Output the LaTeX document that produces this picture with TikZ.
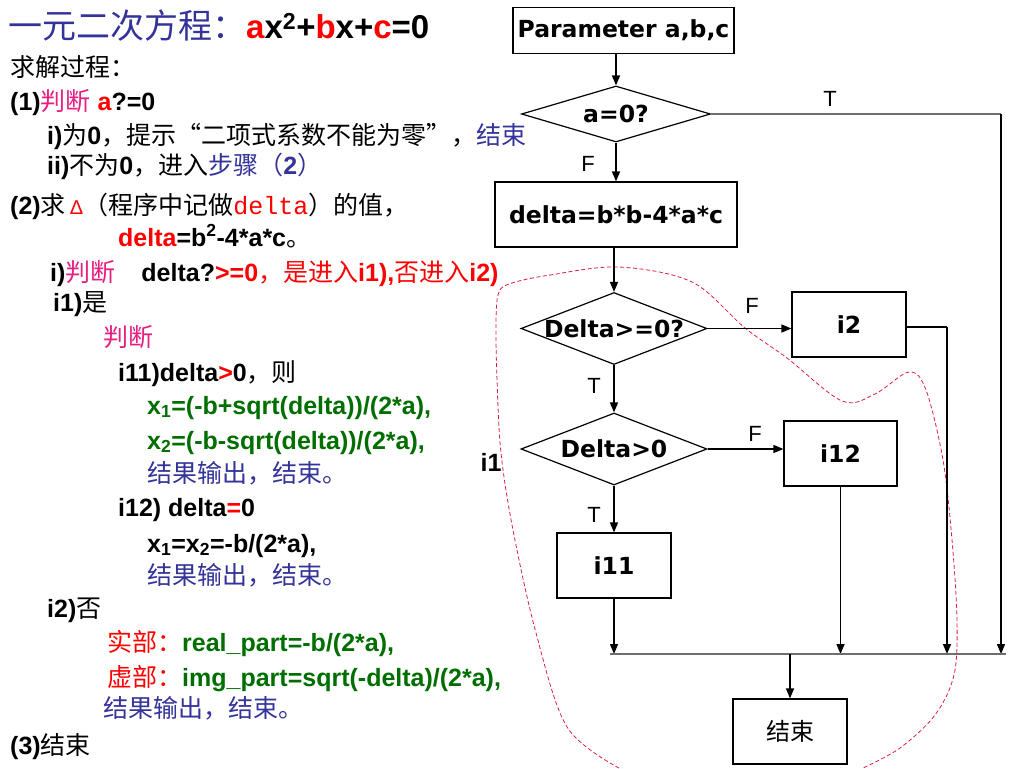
\documentclass[tikz,border=0pt]{standalone}
\usepackage{fontspec}
\setmainfont{Liberation Sans}
\newfontfamily\zhf{Noto Sans CJK SC}
\newfontfamily\vf{DejaVu Sans}
\newfontfamily\monof{Liberation Mono}
\usetikzlibrary{shapes.geometric,arrows.meta}
\definecolor{pblue}{RGB}{51,51,153}
\definecolor{pmag}{RGB}{230,30,130}
\definecolor{pred}{RGB}{255,0,0}
\definecolor{pgreen}{RGB}{0,110,0}
\definecolor{lgray}{RGB}{110,110,110}
\definecolor{dred}{RGB}{220,30,60}
\newcommand\zh[1]{{\zhf\mdseries #1}}
\newcommand\txtfont{\fontsize{25}{25}\selectfont\bfseries}
\newcommand\fcfont{\vf\bfseries\fontsize{23.5}{23.5}\selectfont}
\tikzset{
  txt/.style={anchor=base west, inner sep=0pt, font=\txtfont},
  fbox/.style={draw, line width=1.2pt, inner sep=0pt, font=\fcfont},
  fdia/.style={diamond, draw, line width=1.2pt, inner sep=0pt},
  tf/.style={inner sep=0pt, font=\fontsize{22}{22}\selectfont},
  arr/.style={-{Triangle[length=10pt,width=8pt]}, line width=1.4pt},
  gline/.style={draw=lgray, line width=1.6pt},
  outl/.style={draw=dred, line width=0.8pt, dash pattern=on 4pt off 2.5pt}
}
\begin{document}
\begin{tikzpicture}[x=1pt,y=-1pt]
\useasboundingbox (0,0) rectangle (1024,768);
% ---- left text ----
\node[txt] (l1) at (8,39) {\fontsize{34}{34}\selectfont\color{pblue}\zh{一元二次方程：}{\fontsize{33}{33}\selectfont\bfseries\color{pred}a\color{black}x\textsuperscript{2}+\color{pred}b\color{black}x+\color{pred}c\color{black}=0}};
\node[txt] (l2) at (10,77) {\zh{求解过程：}};
\node[txt] (l3) at (10,110) {(1)\zh{\color{pmag}判断} {\color{pred}a}?=0};
\node[txt] (l4) at (47,144) {i)\zh{为}0\zh{，提示“二项式系数不能为零”，}\zh{\color{pblue}结束}};
\node[txt] (l5) at (47,174) {ii)\zh{不为}0\zh{，进入}{\color{pblue}\zh{步骤（}2\zh{）}}};
\node[txt] (l6) at (10,214) {(2)\zh{求}\,{\color{pred}\mdseries\fontsize{20}{20}\selectfont Δ}\zh{（程序中记做}{\color{pred}\monof\mdseries delta}\zh{）的值，}};
\node[txt] (l7) at (118,246) {{\color{pred}delta}=b\textsuperscript{2}-4*a*c\zh{。}};
\node[txt] (l8) at (50,281) {i)\zh{\color{pmag}判断}\hspace{26pt}delta?{\color{pred}>=0\zh{，是进入}i1),\zh{否进入}i2)}};
\node[txt] (l9) at (53,311) {i1)\zh{是}};
\node[txt] (l10) at (103,346) {\zh{\color{pmag}判断}};
\node[txt] (l11) at (118,381) {i11)delta{\color{pred}>}0\zh{，则}};
\node[txt] (l12) at (147,414) {\color{pgreen}x\textsubscript{1}=(-b+sqrt(delta))/(2*a),};
\node[txt] (l13) at (147,449) {\color{pgreen}x\textsubscript{2}=(-b-sqrt(delta))/(2*a),};
\node[txt] (l14) at (147,482) {\zh{\color{pblue}结果输出，结束。}};
\node[txt] (l15) at (118,516) {i12) delta{\color{pred}=}0};
\node[txt] (l16) at (147,552) {x\textsubscript{1}=x\textsubscript{2}=-b/(2*a),};
\node[txt] (l17) at (147,584) {\zh{\color{pblue}结果输出，结束。}};
\node[txt] (l18) at (47,617) {i2)\zh{否}};
\node[txt] (l19) at (107,651) {{\color{pred}\zh{实部：}}{\color{pgreen}real\_part=-b/(2*a),}};
\node[txt] (l20) at (107,686) {{\color{pred}\zh{虚部：}}{\color{pgreen}img\_part=sqrt(-delta)/(2*a),}};
\node[txt] (l21) at (103,717) {\zh{\color{pblue}结果输出，结束。}};
\node[txt] (l22) at (10,754) {(3)\zh{结束}};
% ---- dashed outline ----
\draw[outl] plot[smooth, tension=0.55] coordinates {(619,768) (567,727) (536,633) (513,530) (501,453) (497,380) (496,320) (499,292) (512,283) (550,275) (619,267) (692,282) (745,328) (787,358) (842,401) (875,394) (909,372) (926,390) (943,460) (952,540) (957,620) (954,675) (935,715) (900,748) (863,768)};
% ---- flowchart ----
\node[fbox, minimum width=221pt, minimum height=46pt] (param) at (623.5,30.5) {Parameter a,b,c};
\node[fdia, minimum width=189pt, minimum height=56pt, label={[font=\fcfont]center:a=0?}] (a0) at (616,114) {};
\node[fbox, minimum width=242pt, minimum height=65pt] (delta) at (616,214.5) {delta=b*b-4*a*c};
\node[fdia, minimum width=186pt, minimum height=72pt, label={[font=\fcfont]center:Delta>=0?}] (d1) at (614,328.5) {};
\node[fbox, minimum width=114pt, minimum height=65pt] (i2) at (849,324.5) {i2};
\node[fdia, minimum width=186pt, minimum height=72pt, label={[font=\fcfont]center:Delta>0}] (d2) at (614,449) {};
\node[fbox, minimum width=113pt, minimum height=65pt] (i12) at (840.5,453.5) {i12};
\node[fbox, minimum width=114pt, minimum height=65pt] (i11) at (614,565.5) {i11};
\node[fbox, minimum width=114pt, minimum height=65pt, font=\fontsize{24}{24}\selectfont\zhf] (end) at (790,731.5) {结束};
\node[inner sep=0pt, font=\txtfont] (i1lbl) at (491,462) {i1};
\coordinate (tr) at (1001,114);
\coordinate (br) at (1001,654);
\coordinate (hl) at (610,654);
\coordinate (hr) at (1006,654);
\coordinate (i2c) at (947,327);
% connectors
\draw[arr] (param.south -| a0.north) -- (a0.north);
\draw[gline] (a0.east) -- (tr);
\draw[arr] (tr) -- (br);
\draw[arr] (a0.south) -- (delta.north -| a0.south);
\draw[arr] (delta.south -| d1.north) -- (d1.north);
\draw[arr] (d1.east) -- (d1.east -| i2.west);
\draw[line width=1.4pt] (i2.east |- i2c) -- (i2c);
\draw[arr] (i2c) -- (i2c |- hl);
\draw[arr] (d1.south) -- (d2.north);
\draw[arr] (d2.east) -- (d2.east -| i12.west);
\draw[arr] (d2.south) -- (i11.north);
\draw[arr] (i11.south) -- (i11.south |- hl);
\draw[arr] (i12.south) -- (i12.south |- hl);
\draw[gline] (hl) -- (hr);
\draw[arr] (hl -| end.north) -- (end.north);
% T/F labels
\node[tf] (lt1) at (830,99) {T};
\node[tf] (lf1) at (588,164) {F};
\node[tf] (lf2) at (752,306) {F};
\node[tf] (lt2) at (594,386) {T};
\node[tf] (lf3) at (755,434) {F};
\node[tf] (lt3) at (594,515) {T};
\end{tikzpicture}
\end{document}
